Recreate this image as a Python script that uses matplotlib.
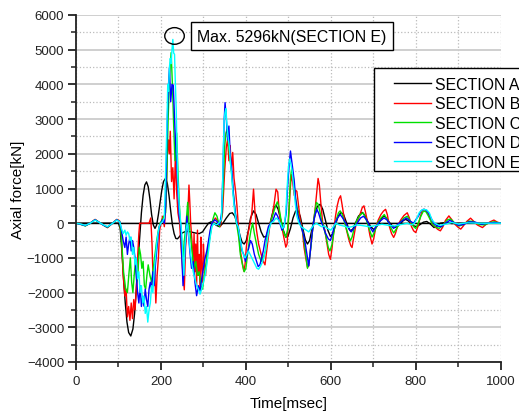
import matplotlib
matplotlib.use("Agg")
import matplotlib.pyplot as plt
from matplotlib.patches import Ellipse, Rectangle
from matplotlib.ticker import MultipleLocator
import numpy as np

plt.rcParams['font.family'] = ['Liberation Sans', 'DejaVu Sans']

# axial force [kN] vs time [msec] as (t, force) pairs
sec_a = [(0, 0), (100, 0), (104, -150), (108, -800), (112, -1600), (116, -2300), (120, -2850), (124, -3150),
         (129, -3250), (134, -3050), (138, -2600), (142, -1900), (146, -1100), (150, -400), (154, 300), (158, 800),
         (162, 1100), (166, 1190), (170, 1050), (174, 700), (178, 250), (182, -50), (186, -150), (190, -50),
         (194, 250), (198, 600), (202, 950), (206, 1200), (211, 1296), (215, 1150), (219, 800), (223, 350),
         (227, -50), (231, -300), (235, -440), (239, -450), (244, -380), (250, -280), (260, -230), (270, -250),
         (280, -280), (290, -300), (298, -250), (305, -120), (312, 0), (318, 40), (324, 20), (330, -60),
         (338, -100), (346, 0), (354, 150), (362, 280), (368, 300), (374, 200), (380, -50), (386, -350),
         (391, -550), (396, -600), (401, -500), (406, -200), (411, 150), (418, 355), (424, 250), (430, 0),
         (436, -250), (442, -400), (448, -380), (454, -150), (460, 150), (466, 450), (471, 520), (476, 400),
         (482, 100), (488, -200), (494, -400), (499, -380), (505, -150), (511, 150), (517, 350), (522, 380),
         (528, 200), (534, -150), (540, -480), (545, -600), (550, -500), (556, -150), (562, 200), (568, 480),
         (575, 547), (581, 400), (587, 100), (593, -200), (599, -380), (605, -300), (611, -50), (617, 200),
         (624, 310), (630, 250), (636, 50), (641, -120), (646, -220), (652, -170), (658, 0), (665, 200),
         (674, 310), (680, 230), (687, 50), (694, -100), (701, -180), (707, -120), (713, 0), (719, 130),
         (725, 210), (731, 150), (738, 20), (745, -80), (752, -120), (758, -80), (765, 0), (771, 80),
         (776, 110), (782, 70), (790, -20), (796, -80), (802, -100), (810, -40), (818, 30), (826, 50),
         (834, -20), (843, -125), (850, -80), (858, 0), (870, 20), (885, -10), (900, 0), (1000, 0)]

sec_b = [(0, 0), (10, -20), (22, -70), (32, -10), (45, 110), (55, 20), (65, -60), (74, -130), (84, -20),
         (96, 110), (103, 60), (107, -400), (111, -1500), (115, -2100), (118, -1900), (121, -2700), (124, -2400),
         (127, -2800), (130, -2300), (133, -2750), (136, -2200), (139, -2500), (142, -1900), (145, -1000),
         (148, -300), (150, 0), (172, 0), (176, 150), (179, -600), (182, -1800), (185, -1200), (188, -2300),
         (191, -1500), (194, -1000), (197, -200), (200, 0), (204, 200), (208, -100), (212, 600), (215, 2000),
         (218, 2400), (220, 2000), (222, 2650), (225, 1200), (228, 1600), (231, 700), (234, 1930), (237, 900),
         (240, 300), (244, 0), (248, -800), (252, -1500), (255, -1920), (258, -700), (262, 0), (264, 500),
         (266, 1100), (268, 600), (270, 0), (273, -500), (276, -1200), (278, -300), (280, -1400), (282, -600),
         (284, -1800), (286, -200), (288, -1500), (290, -900), (292, -1900), (294, -400), (296, -1300),
         (298, -1700), (300, -600), (302, -1100), (305, -1500), (308, -1000), (311, -700), (315, -400),
         (318, -100), (322, 0), (328, 150), (335, 50), (340, -100), (345, 300), (350, 1500), (354, 2200),
         (357, 2420), (360, 1800), (363, 2240), (366, 1500), (369, 2040), (372, 1300), (376, 900), (379, 500),
         (383, -200), (387, -800), (391, -1100), (395, -1380), (398, -1200), (401, -700), (405, -300), (410, 0),
         (414, 300), (418, 980), (421, 400), (425, -200), (430, -600), (436, -900), (441, -1100), (445, -1200),
         (449, -800), (453, -400), (457, 0), (462, 200), (467, 600), (471, 980), (475, 900), (478, 400),
         (482, 0), (486, -200), (490, -450), (494, -690), (497, -600), (500, 0), (504, 900), (507, 1400),
         (510, 1200), (514, 800), (517, 950), (520, 920), (524, 500), (528, 100), (533, -200), (537, -700),
         (541, -1000), (545, -1270), (548, -1230), (551, -900), (555, -400), (559, 0), (563, 400), (567, 900),
         (570, 1290), (573, 1100), (577, 500), (581, 0), (586, -200), (591, -600), (595, -900), (599, -1040),
         (603, -700), (607, -200), (611, 200), (615, 500), (619, 700), (623, 790), (627, 500), (632, 100),
         (637, -200), (642, -450), (647, -650), (650, -700), (654, -400), (659, -50), (664, 100), (670, 300),
         (674, 450), (678, 500), (682, 300), (687, 0), (692, -350), (697, -600), (701, -450), (706, -100),
         (712, 100), (718, 250), (724, 350), (729, 400), (733, 250), (738, -100), (743, -300), (748, -410),
         (752, -300), (758, -50), (765, 100), (772, 220), (780, 300), (785, 150), (790, -100), (795, -220),
         (800, -270), (805, -100), (810, 150), (815, 350), (820, 400), (826, 350), (832, 200), (838, 0),
         (845, -100), (852, -180), (858, -220), (864, -100), (870, 80), (878, 210), (885, 100), (892, -30),
         (900, -120), (906, -170), (912, -80), (920, 50), (929, 145), (936, 60), (945, -50), (957, -125),
         (965, -40), (975, 40), (984, 90), (992, 30), (1000, 0)]

sec_c = [(0, 0), (10, -30), (22, -80), (32, -10), (45, 100), (55, 20), (65, -60), (74, -120), (84, -20),
         (96, 100), (103, 40), (107, -400), (112, -1400), (117, -1900), (121, -2000), (125, -1400), (128, -1000),
         (131, -1700), (134, -2000), (137, -1500), (140, -1100), (143, -1700), (146, -1400), (149, -700),
         (152, -900), (155, -1300), (158, -1100), (161, -1800), (164, -1900), (167, -1500), (170, -1200),
         (174, -1500), (178, -1700), (182, -1300), (186, -900), (190, -500), (194, -200), (198, 0), (203, 100),
         (207, 200), (211, 300), (214, 1500), (217, 3000), (220, 4200), (224, 4915), (227, 4000), (230, 2800),
         (233, 1800), (237, 2600), (240, 1500), (243, 600), (246, 0), (249, -600), (252, -1000), (255, -500),
         (258, -200), (261, 300), (263, 600), (266, 0), (270, -400), (274, -900), (278, -1300), (282, -1100),
         (286, -1500), (290, -1400), (294, -1800), (298, -1900), (302, -1500), (306, -1200), (310, -800),
         (314, -500), (318, -200), (322, 100), (327, 300), (332, 200), (338, -100), (343, 200), (347, 1200),
         (350, 2200), (353, 2600), (356, 2710), (359, 2300), (362, 1900), (366, 1500), (370, 900), (374, 400),
         (378, 0), (383, -400), (387, -900), (392, -1200), (396, -1400), (400, -1300), (404, -900), (408, -500),
         (412, -200), (416, 0), (420, -300), (425, -600), (430, -900), (436, -1100), (441, -1000), (446, -800),
         (450, -400), (455, -100), (460, 100), (465, 300), (470, 500), (474, 615), (478, 450), (482, 150),
         (486, -100), (490, -300), (494, -400), (498, -200), (501, 300), (505, 1300), (508, 1600), (512, 1300),
         (516, 800), (520, 500), (524, 200), (528, 0), (533, -200), (537, -500), (541, -900), (545, -1300),
         (549, -1100), (553, -700), (557, -200), (561, 200), (566, 600), (570, 550), (574, 350), (578, 100),
         (583, -100), (589, -400), (594, -700), (598, -800), (603, -600), (608, -200), (613, 100), (618, 300),
         (622, 355), (627, 250), (633, 0), (640, -300), (646, -510), (650, -400), (656, -100), (662, 100),
         (670, 250), (676, 300), (682, 150), (690, -150), (697, -400), (703, -250), (710, 0), (718, 150),
         (726, 250), (733, 100), (740, -100), (748, -280), (755, -150), (762, 0), (772, 150), (780, 200),
         (788, 50), (795, -100), (800, -150), (806, 0), (812, 200), (818, 350), (824, 330), (830, 200),
         (838, 0), (846, -100), (855, -150), (865, -50), (875, 100), (882, 120), (892, 0), (902, -80),
         (912, -40), (925, 60), (935, 50), (950, -40), (962, -50), (975, 20), (985, 40), (1000, 0)]

sec_d = [(0, 0), (10, -30), (22, -70), (32, -10), (45, 100), (55, 20), (65, -60), (74, -110), (84, -20),
         (96, 100), (103, 40), (107, -200), (111, -500), (115, -700), (118, -400), (121, -900), (124, -600),
         (127, -400), (130, -800), (133, -500), (136, -700), (139, -1000), (142, -1500), (145, -2000),
         (148, -2300), (151, -1800), (154, -2400), (157, -2100), (160, -2390), (163, -1900), (166, -2200),
         (169, -2400), (172, -1900), (175, -1700), (178, -1900), (181, -1400), (184, -1800), (187, -1200),
         (190, -800), (193, -400), (196, -100), (200, 0), (204, 100), (208, 0), (211, 500), (214, 2500),
         (217, 3800), (220, 4480), (223, 3500), (226, 4000), (229, 3975), (232, 3000), (234, 2420), (237, 1800),
         (240, 900), (243, 200), (246, 0), (249, -900), (252, -1800), (255, -1200), (258, -500), (261, 200),
         (264, -200), (268, -800), (272, -1300), (276, -1100), (280, -1700), (284, -2090), (288, -1800),
         (292, -1950), (296, -1600), (300, -1300), (304, -1000), (308, -800), (312, -500), (316, -200), (320, 0),
         (326, 100), (332, 50), (338, -50), (343, 300), (346, 1500), (349, 3000), (351, 3475), (354, 3000),
         (357, 2400), (360, 2800), (363, 2000), (367, 1500), (371, 800), (375, 300), (379, 0), (383, -200),
         (387, -500), (391, -800), (395, -900), (399, -1100), (403, -900), (407, -700), (411, -500), (415, -600),
         (420, -900), (425, -1100), (429, -1250), (433, -1200), (437, -1000), (441, -800), (445, -500),
         (449, -300), (453, -100), (458, 0), (464, 100), (470, 300), (475, 200), (480, 0), (485, -200),
         (490, -100), (495, 300), (498, 1000), (502, 1700), (505, 2080), (508, 1800), (511, 1500), (514, 1200),
         (517, 700), (521, 300), (525, 100), (530, -100), (535, -300), (540, -600), (545, -1000), (548, -1230),
         (551, -900), (555, -400), (559, 0), (563, 250), (567, 400), (571, 300), (576, 100), (582, -100),
         (588, -300), (594, -450), (599, -500), (604, -300), (610, 0), (616, 150), (622, 250), (628, 150),
         (635, 0), (642, -150), (648, -250), (654, -150), (662, 0), (670, 150), (677, 200), (684, 100),
         (692, -100), (699, -250), (706, -100), (715, 50), (725, 150), (732, 100), (740, -50), (748, -150),
         (756, -50), (766, 50), (778, 150), (788, 50), (795, 0), (800, 100), (806, 200), (812, 350), (818, 400),
         (824, 380), (830, 300), (836, 150), (842, 0), (850, -80), (860, -100), (870, 0), (880, 80), (890, 20),
         (900, -60), (912, -40), (925, 40), (940, 30), (955, -30), (970, 0), (985, 20), (1000, 0)]

sec_e = [(0, 0), (10, -20), (22, -60), (32, -10), (45, 90), (55, 20), (65, -50), (74, -100), (84, -20),
         (96, 90), (103, 40), (107, -150), (111, -300), (115, -200), (118, -350), (121, -250), (124, -300),
         (127, -500), (130, -400), (133, -900), (136, -700), (139, -1200), (142, -1000), (145, -1600),
         (148, -1400), (151, -2000), (154, -1800), (157, -2300), (160, -2100), (163, -2600), (166, -2400),
         (169, -2850), (172, -2500), (175, -2300), (178, -1800), (181, -2000), (184, -1400), (187, -1000),
         (190, -600), (193, -300), (196, -100), (200, 0), (204, 50), (208, 150), (211, 1500), (214, 2800),
         (216, 4000), (218, 3800), (220, 4500), (222, 4750), (224, 4600), (226, 5000), (228, 5296), (230, 4900),
         (232, 4870), (234, 4000), (236, 3280), (238, 2000), (240, 1200), (243, 500), (246, 100), (249, -300),
         (252, -1000), (254, -1500), (256, -800), (259, -200), (262, 0), (265, -300), (268, -700), (272, -1100),
         (276, -1400), (280, -1600), (284, -1800), (288, -1900), (292, -2045), (296, -1900), (300, -1700),
         (304, -1500), (308, -1200), (312, -800), (316, -400), (320, -100), (325, 0), (330, -50), (336, 0),
         (342, 100), (345, 1000), (347, 2200), (349, 3000), (351, 3200), (353, 3300), (355, 2900), (358, 2500),
         (361, 2200), (364, 1700), (367, 1300), (370, 800), (374, 300), (378, 0), (382, -100), (386, -400),
         (390, -700), (394, -900), (398, -1000), (402, -900), (406, -800), (410, -900), (414, -1000),
         (418, -1100), (422, -1200), (426, -1300), (430, -1325), (434, -1250), (438, -1150), (442, -1000),
         (446, -800), (450, -500), (454, -200), (459, 0), (465, 50), (471, 150), (476, 100), (481, 0),
         (486, -150), (490, -100), (494, 300), (497, 1000), (500, 1600), (503, 1850), (506, 1700), (509, 1500),
         (512, 1100), (516, 600), (520, 200), (525, 0), (530, -100), (536, -150), (542, -200), (548, -250),
         (554, -150), (560, -50), (566, 0), (572, -50), (578, -100), (585, -80), (592, -150), (600, -200),
         (606, -100), (612, 0), (620, -50), (630, -80), (640, -120), (650, -100), (660, -50), (670, -60),
         (680, -80), (690, -100), (700, -80), (710, -60), (720, -30), (735, -60), (750, -80), (765, -40),
         (780, 0), (790, -50), (797, 0), (803, 150), (808, 300), (814, 380), (820, 400), (826, 380), (832, 300),
         (838, 100), (845, 0), (855, -60), (870, -30), (885, 20), (900, -20), (920, 10), (950, 0), (1000, 0)]

labels = ['SECTION A', 'SECTION B', 'SECTION C', 'SECTION D', 'SECTION E']
colors = ['black', '#ff0000', '#00e000', '#0000ff', '#00ffff']
series = [sec_a, sec_b, sec_c, sec_d, sec_e]

fig = plt.figure(figsize=(5.19, 4.14), dpi=100)
W, H = 519, 414
ax = fig.add_axes([76 / W, 1 - 363 / H, (500.7 - 76) / W, (363 - 16) / H])

ax.axhline(0, color='black', lw=1.0, zorder=1.5)
handles = []
for data, col, lab in zip(series, colors, labels):
    t, f = np.array(data, dtype=float).T
    h, = ax.plot(t, f, color=col, lw=1.0, label=lab, zorder=2)
    handles.append(h)

ax.set_xlim(0, 1000)
ax.set_ylim(-4000, 6000)
ax.xaxis.set_major_locator(MultipleLocator(200))
ax.xaxis.set_minor_locator(MultipleLocator(100))
ax.yaxis.set_major_locator(MultipleLocator(1000))
ax.yaxis.set_minor_locator(MultipleLocator(500))

ax.set_axisbelow(True)
ax.grid(True, which='major', axis='y', color='#cccccc', lw=1.3, ls='-')
ax.grid(True, which='minor', axis='y', color='#bbbbbb', lw=0.9, ls=':')
ax.grid(True, which='both', axis='x', color='#bbbbbb', lw=0.9, ls=':')

for s in ['top', 'right']:
    ax.spines[s].set_visible(False)
for s in ['left', 'bottom']:
    ax.spines[s].set_linewidth(1.3)
    ax.spines[s].set_color('#222222')

ax.tick_params(which='major', direction='out', length=6, width=1.3, labelsize=9.5, colors='#222222')
ax.tick_params(which='minor', direction='out', length=3.5, width=1.1, colors='#222222')
ax.tick_params(axis='y', pad=2.5)
ax.tick_params(axis='x', pad=3.5)

ax.set_xlabel('Time[msec]', fontsize=11, labelpad=6)
ax.set_ylabel('Axial force[kN]', fontsize=11, labelpad=1.5)

# mark the maximum of section E
t_e, f_e = np.array(sec_e, dtype=float).T
imax = np.argmax(f_e)
ax.add_patch(Ellipse((t_e[imax] + 4, f_e[imax] + 100), 46, 480, fill=False, ec='black', lw=1.0, zorder=3))
ax.text(285, 5386, f'Max. {f_e[imax]:.0f}kN(SECTION E)', fontsize=11.4, va='center', ha='left', zorder=4,
        bbox=dict(boxstyle='square,pad=0.4', fc='white', ec='black', lw=1.0))

# legend: frame drawn separately so it can run off the right edge like the original
leg = fig.legend(handles=handles, loc='upper left', bbox_to_anchor=(394.3 / W, 1 - 78 / H),
                 frameon=False, fontsize=11.4, handlelength=2.3, handletextpad=0.3,
                 labelspacing=0.28, borderpad=0, borderaxespad=0)
for line in leg.get_lines():
    line.set_linewidth(1.0)
fig.patches.append(Rectangle((374.3 / W, 1 - 172 / H), 200 / W, (172 - 69.3) / H, transform=fig.transFigure,
                             fill=True, fc='white', ec='black', lw=1.0, zorder=2.5))
leg.set_zorder(3)

fig.savefig('out.png', dpi=100)
